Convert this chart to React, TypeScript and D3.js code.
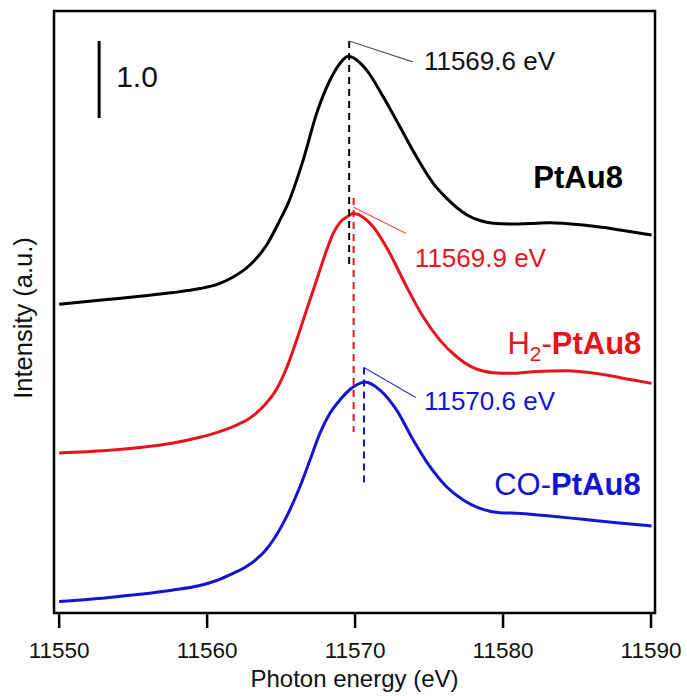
import React from "react";
import * as d3 from "d3";

// ---------- data ----------
const xTicks = [11550, 11560, 11570, 11580, 11590];

const ptEnergy = [11550, 11553.21, 11555.46, 11557.71, 11559.51, 11560.64, 11561.76, 11562.89, 11564.02, 11564.92, 11565.48, 11566.49, 11567.4, 11568.3, 11568.97, 11569.54, 11570.78, 11571.9, 11573.03, 11574.15, 11575.28, 11576.18, 11577.54, 11578.43, 11579.33, 11580.46, 11581.81, 11583.16, 11585.41, 11587.67, 11590.04];
const ptIntensity = [0, 0.061, 0.104, 0.152, 0.205, 0.256, 0.354, 0.51, 0.77, 1.094, 1.315, 1.873, 2.48, 2.91, 3.127, 3.222, 3.042, 2.695, 2.306, 1.916, 1.571, 1.38, 1.164, 1.088, 1.052, 1.042, 1.05, 1.059, 1.029, 0.973, 0.899];

const h2Energy = [11550, 11553.21, 11555.46, 11557.71, 11559.51, 11560.64, 11561.76, 11562.89, 11563.79, 11564.7, 11565.37, 11566.05, 11566.72, 11567.4, 11568.08, 11568.52, 11568.97, 11569.54, 11569.87, 11571.22, 11572.35, 11573.48, 11574.6, 11575.73, 11576.86, 11577.98, 11578.66, 11579.33, 11580.46, 11582.04, 11584.29, 11586.54, 11588.79, 11590.04];
const h2Intensity = [0, 0.03, 0.069, 0.128, 0.202, 0.264, 0.342, 0.452, 0.602, 0.829, 1.102, 1.465, 1.855, 2.245, 2.634, 2.851, 2.991, 3.076, 3.108, 2.937, 2.591, 2.158, 1.768, 1.465, 1.249, 1.108, 1.063, 1.041, 1.033, 1.054, 1.067, 1.024, 0.946, 0.903];

const coEnergy = [11550, 11553.21, 11555.46, 11557.71, 11559.51, 11560.64, 11561.76, 11562.55, 11563.34, 11563.91, 11564.47, 11565.37, 11566.27, 11566.95, 11567.62, 11568.3, 11568.97, 11569.65, 11570.15, 11570.66, 11571.68, 11572.81, 11573.93, 11575.06, 11576.18, 11577.31, 11578.43, 11579.79, 11580.91, 11583.16, 11585.41, 11587.67, 11590.04];
const coIntensity = [0, 0.049, 0.093, 0.149, 0.207, 0.272, 0.366, 0.441, 0.551, 0.655, 0.798, 1.101, 1.49, 1.837, 2.184, 2.444, 2.616, 2.753, 2.818, 2.85, 2.746, 2.486, 2.097, 1.75, 1.49, 1.318, 1.21, 1.153, 1.145, 1.11, 1.067, 1.023, 0.98];

const seriesNames = ["PtAu8", "H2-PtAu8", "CO-PtAu8"];
const seriesOffsets = [4.01, 2.08, 0.15];
const seriesColors = ["#000000", "#e8141c", "#1414d2"];
const leaderColors = ["#555555", "#ee5050", "#3434c0"];

const peakEnergies = [11569.6, 11569.9, 11570.6];
const peakLabels = ["11569.6 eV", "11569.9 eV", "11570.6 eV"];
const dashTop = [7.43, 5.39, 3.19];
const dashBottom = [4.51, 2.35, 1.69];
const leaderStart = [7.43, 5.27, 3.19];
const leaderEndE = [11573.9, 11573.45, 11574.1];
const leaderEndV = [7.16, 4.93, 2.8];
const peakLabelE = [11574.65, 11574.04, 11574.65];
const peakLabelV = [7.05, 4.5, 2.64];

const nameLabelE = [11588.1, 11589.35, 11589.3];
const nameLabelV = [5.52, 3.37, 1.53];

const scaleBarE = 11552.7;
const scaleBarRange = [6.43, 7.43];
const scaleBarText = "1.0";
const scaleTextE = 11553.85;
const scaleTextV = 6.83;

const xDomain = [11549.65, 11590.27];
const yDomain = [0, 7.82];

// ---------- layout ----------
const W = 687;
const H = 696;
const left = 54;
const right = 655;
const top = 11;
const bottom = 613;
const FONT = "'Liberation Sans', Arial, sans-serif";

export default function App() {
  const x = d3.scaleLinear().domain(xDomain).range([left, right]);
  const y = d3.scaleLinear().domain(yDomain).range([bottom, top]);

  const energies = [ptEnergy, h2Energy, coEnergy];
  const intens = [ptIntensity, h2Intensity, coIntensity];

  const line = d3
    .line<[number, number]>()
    .x((d) => x(d[0]))
    .y((d) => y(d[1]))
    .curve(d3.curveMonotoneX);

  const paths = energies.map((es, i) =>
    line(es.map((e, j) => [e, intens[i][j] + seriesOffsets[i]] as [number, number]))
  );

  const nameLabel = (i: number) => {
    const common = {
      x: x(nameLabelE[i]),
      y: y(nameLabelV[i]),
      textAnchor: "end" as const,
      fontSize: 31,
      fontFamily: FONT,
      fill: seriesColors[i],
    };
    if (i === 0)
      return (
        <text key={i} {...common} fontWeight="bold">
          PtAu8
        </text>
      );
    if (i === 1)
      return (
        <text key={i} {...common}>
          <tspan>H</tspan>
          <tspan fontSize={21} dy={7}>2</tspan>
          <tspan dy={-7}>-</tspan>
          <tspan fontWeight="bold">PtAu8</tspan>
        </text>
      );
    return (
      <text key={i} {...common}>
        <tspan>CO-</tspan>
        <tspan fontWeight="bold">PtAu8</tspan>
      </text>
    );
  };

  return (
    <svg
      width={W}
      height={H}
      style={{ position: "absolute", left: 0, top: 0, background: "#fff" }}
    >
      <rect x={0} y={0} width={W} height={H} fill="#fff" />

      {/* curves */}
      {paths.map((p, i) => (
        <path key={i} d={p || ""} fill="none" stroke={seriesColors[i]} strokeWidth={3} strokeLinejoin="round" />
      ))}

      {/* peak dashed markers */}
      {peakEnergies.map((e, i) => (
        <g key={i}>
          <line
            x1={x(e)}
            x2={x(e)}
            y1={y(dashTop[i])}
            y2={y(dashBottom[i])}
            stroke={seriesColors[i]}
            strokeWidth={2}
            strokeDasharray="7,5"
          />
          <line
            x1={x(e)}
            x2={x(leaderEndE[i])}
            y1={y(leaderStart[i])}
            y2={y(leaderEndV[i])}
            stroke={leaderColors[i]}
            strokeWidth={1.2}
          />
          <text
            x={x(peakLabelE[i])}
            y={y(peakLabelV[i])}
            fontSize={26}
            fontFamily={FONT}
            fill={seriesColors[i] === "#000000" ? "#111" : seriesColors[i]}
          >
            {peakLabels[i]}
          </text>
        </g>
      ))}

      {/* sample names */}
      {seriesNames.map((_, i) => nameLabel(i))}

      {/* scale bar */}
      <line
        x1={x(scaleBarE)}
        x2={x(scaleBarE)}
        y1={y(scaleBarRange[0])}
        y2={y(scaleBarRange[1])}
        stroke="#000"
        strokeWidth={3}
      />
      <text x={x(scaleTextE)} y={y(scaleTextV)} fontSize={30} fontFamily={FONT} fill="#111">
        {scaleBarText}
      </text>

      {/* frame */}
      <rect
        x={left}
        y={top}
        width={right - left}
        height={bottom - top}
        fill="none"
        stroke="#000"
        strokeWidth={2.5}
      />

      {/* x ticks */}
      {xTicks.map((t) => (
        <g key={t}>
          <line x1={x(t)} x2={x(t)} y1={bottom} y2={bottom + 15} stroke="#000" strokeWidth={2.5} />
          <text
            x={x(t)}
            y={bottom + 45}
            textAnchor="middle"
            fontSize={22.5}
            fontFamily={FONT}
            fill="#111"
          >
            {t}
          </text>
        </g>
      ))}

      <text
        x={(left + right) / 2}
        y={bottom + 74}
        textAnchor="middle"
        fontSize={24}
        fontFamily={FONT}
        fill="#111"
      >
        Photon energy (eV)
      </text>

      <text
        transform={`translate(32, ${(top + bottom) / 2 + 6}) rotate(-90)`}
        textAnchor="middle"
        fontSize={25.5}
        fontFamily={FONT}
        fill="#111"
      >
        Intensity (a.u.)
      </text>
    </svg>
  );
}
